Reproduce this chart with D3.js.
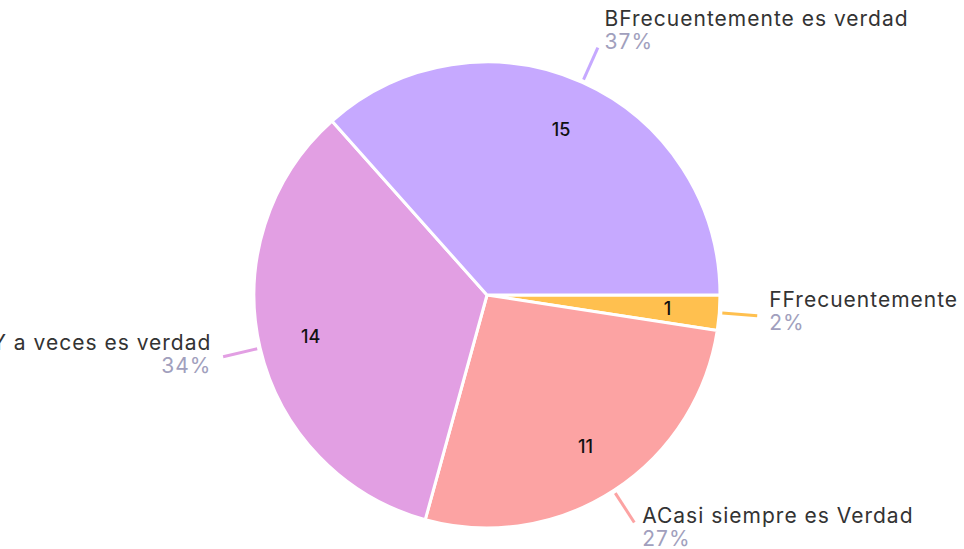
<!DOCTYPE html>
<html>
<head>
<meta charset="utf-8">
<script src="https://cdn.jsdelivr.net/npm/d3@7"></script>
<style>
  html, body { margin: 0; padding: 0; background: #fff; overflow: hidden; }
  svg { display: block; }
</style>
</head>
<body>
<div id="chart"></div>
<script>
// slice order follows the picture: clockwise from 3 o'clock
const categories = ["FFrecuentemente", "ACasi siempre es Verdad", "CAlgunas veces Y a veces es verdad", "BFrecuentemente es verdad"];
const counts = [1, 11, 14, 15];
const colors = ["#ffc04f", "#fca3a3", "#e29fe3", "#c6a9ff"];

const width = 964, height = 549;
const cx = 487, cy = 295, R = 233;

const svg = d3.select("#chart").append("svg")
    .attr("width", width)
    .attr("height", height);

const total = d3.sum(counts);
const data = categories.map((c, i) => ({ name: c, value: counts[i], color: colors[i] }));

const pie = d3.pie()
    .value(d => d.value)
    .sort(null)
    .startAngle(Math.PI / 2)
    .endAngle(Math.PI / 2 + 2 * Math.PI);

const arcs = pie(data);
const arc = d3.arc().innerRadius(0).outerRadius(R);

const g = svg.append("g").attr("transform", `translate(${cx},${cy})`);

g.selectAll("path.slice")
    .data(arcs)
    .join("path")
    .attr("class", "slice")
    .attr("d", arc)
    .attr("fill", d => d.data.color)
    .attr("stroke", "#fff")
    .attr("stroke-width", 3)
    .attr("stroke-linejoin", "round");

// counts inside slices
const inner = d3.arc().innerRadius(181).outerRadius(181);
g.selectAll("text.count")
    .data(arcs)
    .join("text")
    .attr("class", "count")
    .attr("transform", d => `translate(${inner.centroid(d)})`)
    .attr("text-anchor", "middle")
    .attr("dy", "0.35em")
    .attr("font-family", "Inter, 'Noto Sans', sans-serif")
    .attr("font-size", 18)
    .attr("font-weight", 500)
    .attr("fill", "#111")
    .text(d => d.data.value);

// leader lines
const pt = (a, r) => [Math.sin(a) * r, -Math.cos(a) * r];
const mid = d => (d.startAngle + d.endAngle) / 2;

g.selectAll("line.leader")
    .data(arcs)
    .join("line")
    .attr("class", "leader")
    .attr("x1", d => pt(mid(d), R + 3)[0])
    .attr("y1", d => pt(mid(d), R + 3)[1])
    .attr("x2", d => pt(mid(d), R + 38)[0])
    .attr("y2", d => pt(mid(d), R + 38)[1])
    .attr("stroke", d => d.data.color)
    .attr("stroke-width", 3);

// outside labels
const labels = g.selectAll("g.label")
    .data(arcs)
    .join("g")
    .attr("class", "label")
    .attr("transform", d => {
        const a = mid(d);
        const [x, y] = pt(a, R + 38);
        const s = Math.sin(a);
        const dx = Math.sign(s) * (3 + 9 * Math.abs(s));
        return `translate(${x + dx},${y - 10 - 13 * Math.cos(a)})`;
    })
    .attr("text-anchor", d => Math.sin(mid(d)) >= 0 ? "start" : "end")
    .attr("font-family", "Inter, 'Noto Sans', sans-serif")
    .attr("letter-spacing", 1);

labels.append("text")
    .attr("font-size", 21)
    .attr("fill", "#333")
    .text(d => d.data.name);

labels.append("text")
    .attr("y", 23)
    .attr("font-size", 21)
    .attr("fill", "#a19fbd")
    .text(d => Math.round(d.data.value / total * 100) + "%");
</script>
</body>
</html>
